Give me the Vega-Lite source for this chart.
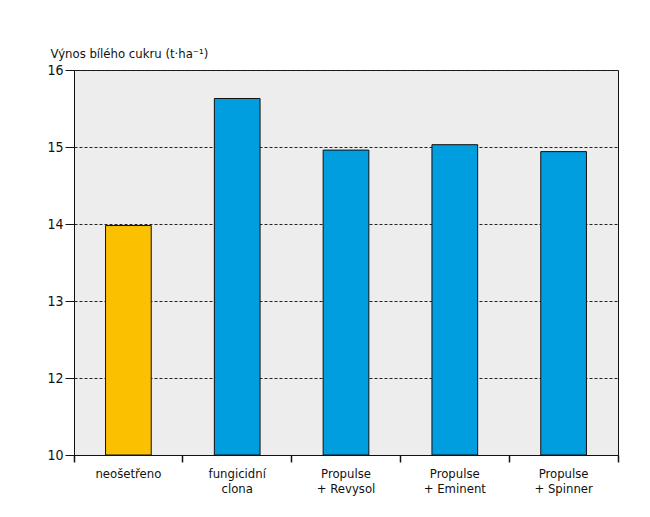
{
  "$schema": "https://vega.github.io/schema/vega-lite/v6.json",
  "width": 544,
  "height": 385,
  "autosize": "none",
  "padding": {"left": 74, "top": 70, "right": 32, "bottom": 62},
  "background": "white",
  "config": {
    "font": "DejaVu Sans Condensed, Roboto, sans-serif",
    "view": {"fill": "#ECEDEC", "stroke": "#111", "strokeWidth": 1}
  },
  "data": {
    "values": [
      {"varianta": "neošetřeno", "vynos": 13.98, "typ": "kontrola"},
      {"varianta": "fungicidní|clona", "vynos": 15.63, "typ": "osetreno"},
      {"varianta": "Propulse|+ Revysol", "vynos": 14.96, "typ": "osetreno"},
      {"varianta": "Propulse|+ Eminent", "vynos": 15.03, "typ": "osetreno"},
      {"varianta": "Propulse|+ Spinner", "vynos": 14.94, "typ": "osetreno"}
    ]
  },
  "mark": {"type": "bar", "stroke": "#111", "strokeWidth": 1, "width": {"band": 0.42}},
  "encoding": {
    "x": {
      "field": "varianta",
      "type": "nominal",
      "sort": null,
      "scale": {"paddingInner": 0, "paddingOuter": 0},
      "axis": {
        "title": null,
        "labelAngle": 0,
        "labelExpr": "split(datum.label, '|')",
        "labelFont": "DejaVu Sans Condensed, Roboto, sans-serif",
        "labelFontSize": 13,
        "labelLineHeight": 15,
        "labelColor": "#111",
        "labelBaseline": "top",
        "labelPadding": 5,
        "bandPosition": 1,
        "tickExtra": true,
        "tickSize": 7,
        "tickWidth": 1.5,
        "tickColor": "#111",
        "domainColor": "#111",
        "grid": false
      }
    },
    "y": {
      "field": "vynos",
      "type": "quantitative",
      "scale": {"domain": [10, 12, 16], "range": [385, 308, 0], "zero": false, "nice": false},
      "axis": {
        "values": [10, 12, 13, 14, 15, 16],
        "title": "Výnos bílého cukru (t·ha⁻¹)",
        "titleAngle": 0,
        "titleAlign": "left",
        "titleBaseline": "alphabetic",
        "titleX": -24,
        "titleY": -13,
        "titleFont": "DejaVu Sans Condensed, Roboto, sans-serif",
        "titleFontSize": 13,
        "titleFontWeight": "normal",
        "titleColor": "#111",
        "labelFont": "DejaVu Sans Condensed, Roboto, sans-serif",
        "labelFontSize": 14,
        "labelColor": "#111",
        "labelPadding": 2,
        "tickSize": 9,
        "tickColor": "#111",
        "domainColor": "#111",
        "grid": true,
        "gridColor": "#222",
        "gridDash": [3, 2],
        "gridWidth": 1
      }
    },
    "y2": {"datum": 10},
    "color": {
      "field": "typ",
      "type": "nominal",
      "scale": {"domain": ["kontrola", "osetreno"], "range": ["#FBC100", "#009EDF"]},
      "legend": null
    }
  }
}
